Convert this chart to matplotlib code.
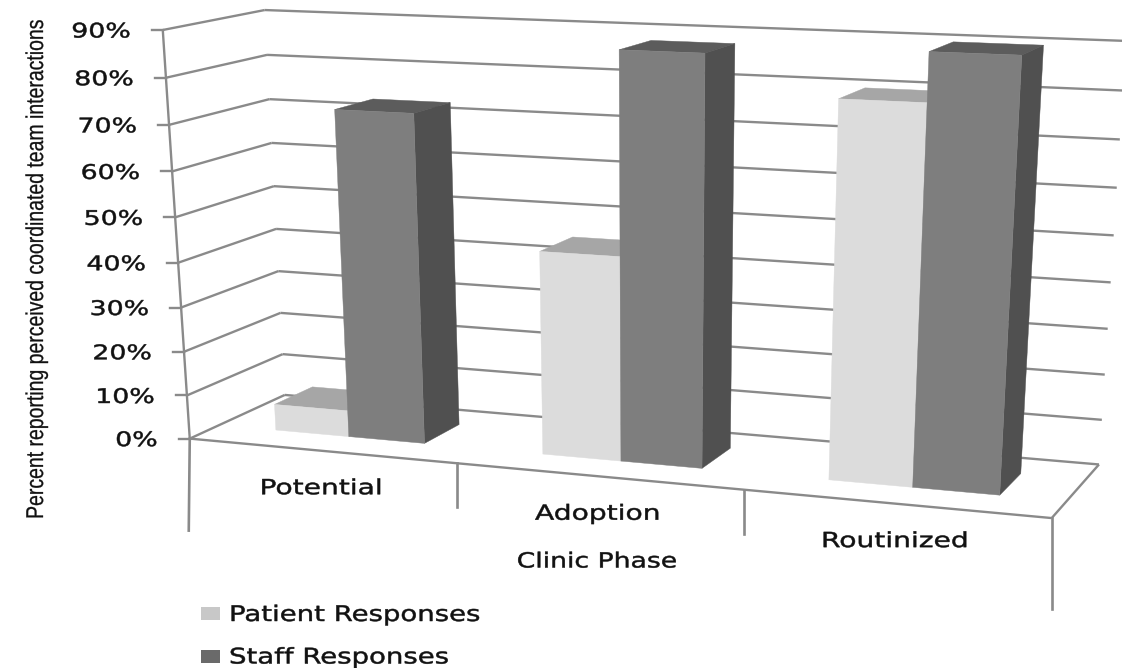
import numpy as np
import matplotlib
matplotlib.use("Agg")
import matplotlib.pyplot as plt
import matplotlib.patheffects as pe
from matplotlib.transforms import Affine2D

categories = ["Potential", "Adoption", "Routinized"]
patient = [6, 45, 80]
staff = [73, 88, 90]
y_ticks = [0, 10, 20, 30, 40, 50, 60, 70, 80, 90]
series_names = ["Patient Responses", "Staff Responses"]

W, H = 1122, 668

# picture corners of the chart box, (category, depth, percent) -> pixel, used to fit the camera
box_3d = [(0, 0, 90), (0, 0, 60), (0, 0, 0), (0, 1, 90), (0, 1, 60), (0, 1, 0),
          (3, 1, 90), (3, 1, 60), (3, 1, 0), (3, 0, 0), (1, 0, 0), (2, 0, 0)]
box_px = [(163, 30), (172, 171), (190, 438), (265, 10), (271, 143), (285, 395),
          (1126, 41), (1117, 188), (1099, 464), (1052, 517), (457, 464), (743, 491)]


def fit_camera(pts, pix):
    A = []
    b = []
    for (x, d, z), (u, v) in zip(pts, pix):
        A.append([x, d, z, 1, 0, 0, 0, 0, -u * x, -u * d, -u * z])
        b.append(u)
        A.append([0, 0, 0, 0, x, d, z, 1, -v * x, -v * d, -v * z])
        b.append(v)
    m = np.linalg.lstsq(np.array(A, float), np.array(b, float), rcond=None)[0]
    return np.append(m, 1).reshape(3, 4)


cam = fit_camera(box_3d, box_px)


def proj(x, d, z):
    p = cam @ np.array([x, d, z, 1.0])
    return p[0] / p[2], p[1] / p[2]


def line3d(ax, a, b, color="#8a8a8a", lw=1.7, zorder=1):
    pa = proj(*a)
    pb = proj(*b)
    ax.plot([pa[0], pb[0]], [pa[1], pb[1]], color=color, lw=lw, zorder=zorder,
            solid_capstyle="butt")


def bar3d(ax, x0, x1, d0, d1, val, front, top, side, zorder):
    quads = [
        ([(x0, d0, val), (x1, d0, val), (x1, d1, val), (x0, d1, val)], top),
        ([(x1, d0, 0), (x1, d1, 0), (x1, d1, val), (x1, d0, val)], side),
        ([(x0, d0, 0), (x1, d0, 0), (x1, d0, val), (x0, d0, val)], front),
    ]
    for q, c in quads:
        pts = [proj(*p) for p in q]
        ax.fill([p[0] for p in pts], [p[1] for p in pts], color=c, lw=0.3, zorder=zorder)


# the reference text is a normal face pulled out of shape, this rescales the glyphs about a point
class Stretch(pe.AbstractPathEffect):
    def __init__(self, sx, sy, cx, cy, weight=0.35):
        super().__init__()
        self.sx = sx
        self.sy = sy
        self.cx = cx
        self.cy = cy
        self.weight = weight

    def draw_path(self, renderer, gc, tpath, affine, rgbFace=None):
        wide = affine + Affine2D().translate(-self.cx, -self.cy).scale(self.sx, self.sy).translate(self.cx, self.cy)
        gc0 = renderer.new_gc()
        gc0.copy_properties(gc)
        gc0.set_linewidth(self.weight)
        gc0.set_foreground(rgbFace)
        renderer.draw_path(gc0, tpath, wide, rgbFace)
        gc0.restore()


def wide_text(ax, x, y, s, sx, ha="center", size=15):
    t = ax.text(x, y, s, ha=ha, va="center", fontsize=size, family="DejaVu Sans", color="#111111")
    t.set_path_effects([Stretch(sx, 1, x, H - y)])
    return t


fig = plt.figure(figsize=(W / 100, H / 100), dpi=100)
ax = fig.add_axes([0, 0, 1, 1])
ax.set_xlim(0, W)
ax.set_ylim(H, 0)
ax.axis("off")

# walls and grid
for t in y_ticks:
    line3d(ax, (0, 0, t), (0, 1, t))
    line3d(ax, (0, 1, t), (3, 1, t))
    u, v = proj(0, 0, t)
    ax.plot([u - 11, u], [v, v], color="#8a8a8a", lw=1.7, zorder=1)
    wide_text(ax, u - 32, v + 2, f"{t}%", 1.33, ha="right", size=14.5)
line3d(ax, (0, 0, 0), (0, 0, 90))
line3d(ax, (0, 0, 0), (3, 0, 0))
line3d(ax, (3, 0, 0), (3, 1, 0))

# category separators hanging from the front edge
drops = [92, 44, 44, 91]
for k, drop in enumerate(drops):
    u, v = proj(k, 0, 0)
    ax.plot([u, u - 1 if k == 0 else u], [v, v + drop], color="#8a8a8a", lw=1.9, zorder=1)

# bars
for i in range(3):
    bar3d(ax, i + 0.22, i + 0.50, 0.30, 0.71, patient[i], "#dcdcdc", "#a6a6a6", "#a6a6a6", 2 + i)
    bar3d(ax, i + 0.50, i + 0.785, 0.30, 0.71, staff[i], "#7e7e7e", "#5c5c5c", "#505050", 2 + i)

for i, name in enumerate(categories):
    u, v = proj(i + 0.5, 0, 0)
    wide_text(ax, u, v + 37.5, name, 1.35)

wide_text(ax, 597, 561.5, "Clinic Phase", 1.28)
# set lower than it shows so the unsqueezed text stays inside the figure
yl = ax.text(37, 325, "Percent reporting perceived coordinated team interactions", rotation=90,
             ha="center", va="center", fontsize=17.5,
             family=["Liberation Sans Narrow", "Liberation Sans"], color="#111111")
yl.set_path_effects([Stretch(1, 0.8, 37, H - 50, weight=0.2)])

# legend
legend_y = [613.5, 656]
legend_col = ["#c8c8c8", "#6a6a6a"]
for name, y, c in zip(series_names, legend_y, legend_col):
    ax.add_patch(plt.Rectangle((201, y - 6.5), 19, 13, color=c, lw=0))
    wide_text(ax, 229, y + 1.5, name, 1.28, ha="left", size=15.5)

fig.savefig("out.png", dpi=100, facecolor="white")
